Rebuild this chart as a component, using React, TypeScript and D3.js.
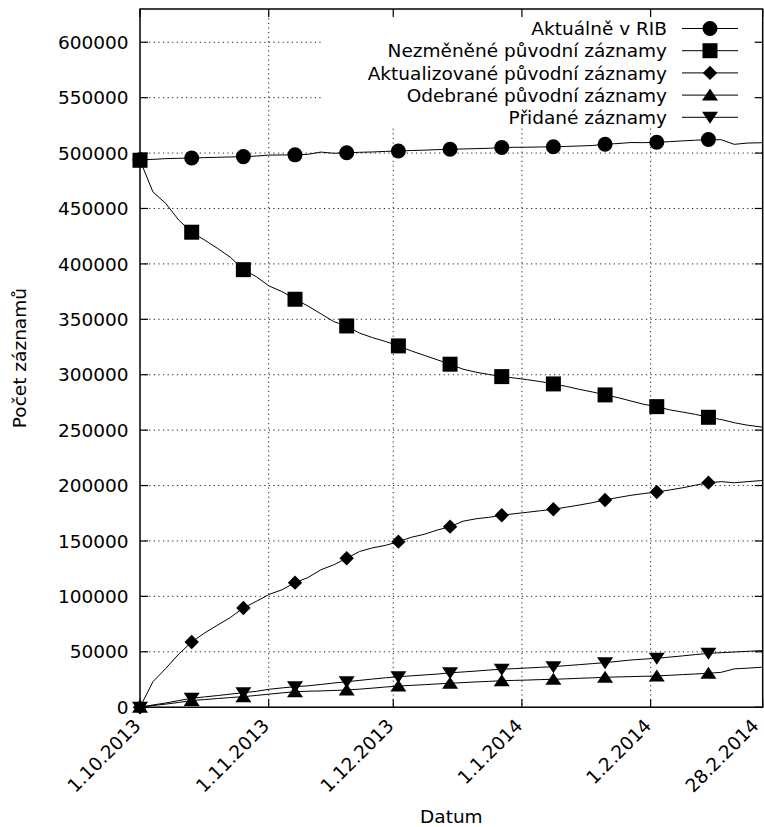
import React from "react";
import * as d3 from "d3";

// Time axis: 1 Oct 2013 – 28 Feb 2014 (UTC to avoid DST jumps)
const START = Date.UTC(2013, 9, 1);
const END = Date.UTC(2014, 1, 28);
const DAY = 86400000;

// Sample times, in days after 1 Oct 2013
const sampleDays = [
  0, 3.11, 6.22, 9.34, 12.45, 15.56, 18.67, 21.78, 24.9, 28.01,
  31.12, 34.23, 37.34, 40.46, 43.57, 46.68, 49.79, 52.9, 56.02, 59.13,
  62.24, 65.35, 68.46, 71.58, 74.69, 77.8, 80.91, 84.02, 87.14, 90.25,
  93.36, 96.47, 99.58, 102.7, 105.81, 108.92, 112.03, 115.14, 118.26, 121.37,
  124.48, 127.59, 130.7, 133.82, 136.93, 140.04, 143.15, 146.26, 149.38, 150,
];

// Record counts per series
const aktualneVRib = [
  494000, 494300, 495000, 495300, 495500, 495900, 496200, 496500, 496800, 497300,
  498200, 498300, 498400, 498900, 500900, 499800, 500300, 500700, 501000, 501500,
  501900, 502300, 502600, 503100, 503400, 503700, 504000, 504300, 505000, 505200,
  505300, 505500, 505700, 506000, 506400, 506800, 508000, 508600, 509500, 509400,
  509800, 510300, 511000, 511600, 512200, 512000, 507900, 509000, 509300, 509500,
];
const nezmenene = [
  493500, 465000, 454500, 439500, 428600, 421500, 414000, 406000, 394800, 388500,
  380000, 375000, 368100, 362000, 355000, 347900, 344000, 337500, 333500, 330000,
  326000, 321500, 317500, 313500, 309500, 305000, 302300, 300300, 298300, 297000,
  295500, 293800, 291700, 289500, 286800, 284500, 281800, 279300, 276300, 273300,
  271200, 268300, 266300, 264200, 261600, 259500, 256700, 254500, 253000, 252700,
];
const aktualizovane = [
  0, 23000, 35000, 48000, 58800, 67000, 74000, 81000, 89500, 95500,
  101800, 106000, 112400, 117000, 124000, 128500, 134400, 140500, 143800, 146000,
  149400, 153300, 156000, 159800, 162900, 167800, 170000, 171300, 173200, 174600,
  175900, 177300, 178600, 180500, 182400, 184500, 187000, 189200, 191200, 192800,
  194200, 196000, 198000, 200300, 202600, 203500, 202500, 203500, 204400, 204600,
];
const odebrane = [
  0, 1500, 2800, 4300, 6000, 6900, 7800, 8700, 9500, 10600,
  11800, 12900, 14000, 14400, 14700, 15100, 15500, 16300, 17200, 18200,
  19100, 19700, 20300, 21000, 21600, 22200, 22800, 23300, 23900, 24200,
  24500, 24900, 25200, 25600, 26100, 26500, 27000, 27300, 27600, 27900,
  28200, 28800, 29400, 30000, 30600, 31500, 34600, 35200, 36000, 36100,
];
const pridane = [
  0, 2000, 3800, 6000, 8000, 9300, 10500, 11800, 13100, 14300,
  16200, 17400, 18500, 19300, 20500, 21800, 23000, 24200, 25400, 26500,
  27500, 28300, 29100, 29900, 31000, 31800, 32600, 33500, 34300, 34800,
  35400, 36000, 36600, 37500, 38400, 39300, 40200, 41400, 42600, 43400,
  44100, 45200, 46300, 47500, 48600, 49200, 49800, 50400, 51000, 51200,
];

const seriesNames = [
  "Aktuálně v RIB",
  "Nezměněné původní záznamy",
  "Aktualizované původní záznamy",
  "Odebrané původní záznamy",
  "Přidané záznamy",
];
const seriesSymbols = ["circle", "square", "diamond", "triangleUp", "triangleDown"];
const seriesValues = [aktualneVRib, nezmenene, aktualizovane, odebrane, pridane];

const xTickDates = [
  Date.UTC(2013, 9, 1),
  Date.UTC(2013, 10, 1),
  Date.UTC(2013, 11, 1),
  Date.UTC(2014, 0, 1),
  Date.UTC(2014, 1, 1),
  Date.UTC(2014, 1, 28),
];
const xTickLabels = ["1.10.2013", "1.11.2013", "1.12.2013", "1.1.2014", "1.2.2014", "28.2.2014"];
const yTicks = [0, 50000, 100000, 150000, 200000, 250000, 300000, 350000, 400000, 450000, 500000, 550000, 600000];

const POINT_INTERVAL = 4;
const FONT = "'DejaVu Sans', sans-serif";
const FS = 18.5;

function symbolPath(kind: string, cx: number, cy: number): string {
  switch (kind) {
    case "circle": {
      const r = 7.5;
      return `M${cx - r},${cy}a${r},${r} 0 1,0 ${2 * r},0a${r},${r} 0 1,0 ${-2 * r},0Z`;
    }
    case "square": {
      const s = 7.5;
      return `M${cx - s},${cy - s}H${cx + s}V${cy + s}H${cx - s}Z`;
    }
    case "diamond": {
      const s = 7.2;
      return `M${cx},${cy - s}L${cx + s},${cy}L${cx},${cy + s}L${cx - s},${cy}Z`;
    }
    case "triangleUp":
      return `M${cx},${cy - 6.5}L${cx + 8},${cy + 5.5}L${cx - 8},${cy + 5.5}Z`;
    default:
      return `M${cx},${cy + 6.5}L${cx + 8},${cy - 5.5}L${cx - 8},${cy - 5.5}Z`;
  }
}

export default function App() {
  const W = 764;
  const H = 827;
  const left = 140;
  const right = 762.7;
  const top = 9;
  const bottom = 707.2;
  const tickLen = 8;

  const x = d3.scaleUtc().domain([START, END]).range([left, right]);
  const y = d3.scaleLinear().domain([0, 630000]).range([bottom, top]);

  const line = d3
    .line<[number, number]>()
    .x((d) => x(START + d[0] * DAY))
    .y((d) => y(d[1]));

  const series = seriesValues.map((vals) =>
    vals.map((v, i) => [sampleDays[i], v] as [number, number])
  );

  // Key layout
  const keyLeft = 323;
  const keyBottom = 126;
  const keyTextEnd = 667;
  const keyLineX1 = 682;
  const keyLineX2 = 738;
  const keyRow0 = 28.5;
  const keyRowStep = 22.2;

  const gridStyle = {
    stroke: "#222",
    strokeWidth: 1,
    strokeDasharray: "1.2,3.4",
    fill: "none",
  };

  // rotated date labels end just left of their tick, kept inside the canvas
  const labelAnchorX = (d: number) => Math.min(x(d) - 3, W - 9);

  return (
    <svg
      width={W}
      height={H}
      viewBox={`0 0 ${W} ${H}`}
      style={{ position: "absolute", left: 0, top: 0, background: "#fff" }}
      fontFamily={FONT}
      fontSize={FS}
    >
      <rect x={0} y={0} width={W} height={H} fill="#fff" />

      {/* grid */}
      <g>
        {yTicks
          .filter((t) => t > 0)
          .map((t) => (
            <line key={`gy${t}`} x1={left} x2={right} y1={y(t)} y2={y(t)} {...gridStyle} />
          ))}
        {xTickDates.slice(1, -1).map((d) => (
          <line key={`gx${d}`} x1={x(d)} x2={x(d)} y1={top} y2={bottom} {...gridStyle} />
        ))}
      </g>

      {/* opaque key background */}
      <rect x={keyLeft} y={top} width={right - keyLeft} height={keyBottom - top} fill="#fff" />

      {/* border and ticks */}
      <g stroke="#000" strokeWidth={1.2} fill="none">
        <rect x={left} y={top} width={right - left} height={bottom - top} strokeWidth={1.5} />
        {yTicks.map((t) => (
          <g key={`ty${t}`}>
            <line x1={left} x2={left + tickLen} y1={y(t)} y2={y(t)} />
            <line x1={right} x2={right - tickLen} y1={y(t)} y2={y(t)} />
          </g>
        ))}
        {xTickDates.map((d) => (
          <g key={`tx${d}`}>
            <line x1={x(d)} x2={x(d)} y1={bottom} y2={bottom - tickLen} />
            <line x1={x(d)} x2={x(d)} y1={top} y2={top + tickLen} />
          </g>
        ))}
      </g>

      {/* y tick labels */}
      <g textAnchor="end" fill="#000">
        {yTicks.map((t) => (
          <text key={`ly${t}`} x={left - 11.5} y={y(t)} dy="0.36em">
            {t}
          </text>
        ))}
      </g>

      {/* x tick labels */}
      <g textAnchor="end" fill="#000">
        {xTickDates.map((d, i) => (
          <text
            key={`lx${d}`}
            transform={`translate(${labelAnchorX(d)},${bottom + 15}) rotate(-45)`}
            dy="0.36em"
          >
            {xTickLabels[i]}
          </text>
        ))}
      </g>

      {/* axis titles */}
      <text x={(left + right) / 2} y={822.5} textAnchor="middle" fill="#000">
        Datum
      </text>
      <text
        transform={`translate(25.5,${(top + bottom) / 2}) rotate(-90)`}
        textAnchor="middle"
        fill="#000"
      >
        Počet záznamů
      </text>

      {/* series */}
      {series.map((pts, si) => (
        <g key={`s${si}`}>
          <path d={line(pts) ?? ""} fill="none" stroke="#000" strokeWidth={1} />
          {pts
            .filter((_, i) => i % POINT_INTERVAL === 0 && i < sampleDays.length - 2)
            .map((p, i) => (
              <path
                key={i}
                d={symbolPath(seriesSymbols[si], x(START + p[0] * DAY), y(p[1]))}
                fill="#000"
              />
            ))}
        </g>
      ))}

      {/* key */}
      {seriesNames.map((name, i) => {
        const cy = keyRow0 + i * keyRowStep;
        return (
          <g key={`k${i}`}>
            <text x={keyTextEnd} y={cy} dy="0.36em" textAnchor="end" fill="#000">
              {name}
            </text>
            <line x1={keyLineX1} x2={keyLineX2} y1={cy} y2={cy} stroke="#000" strokeWidth={1} />
            <path d={symbolPath(seriesSymbols[i], (keyLineX1 + keyLineX2) / 2, cy)} fill="#000" />
          </g>
        );
      })}
    </svg>
  );
}
